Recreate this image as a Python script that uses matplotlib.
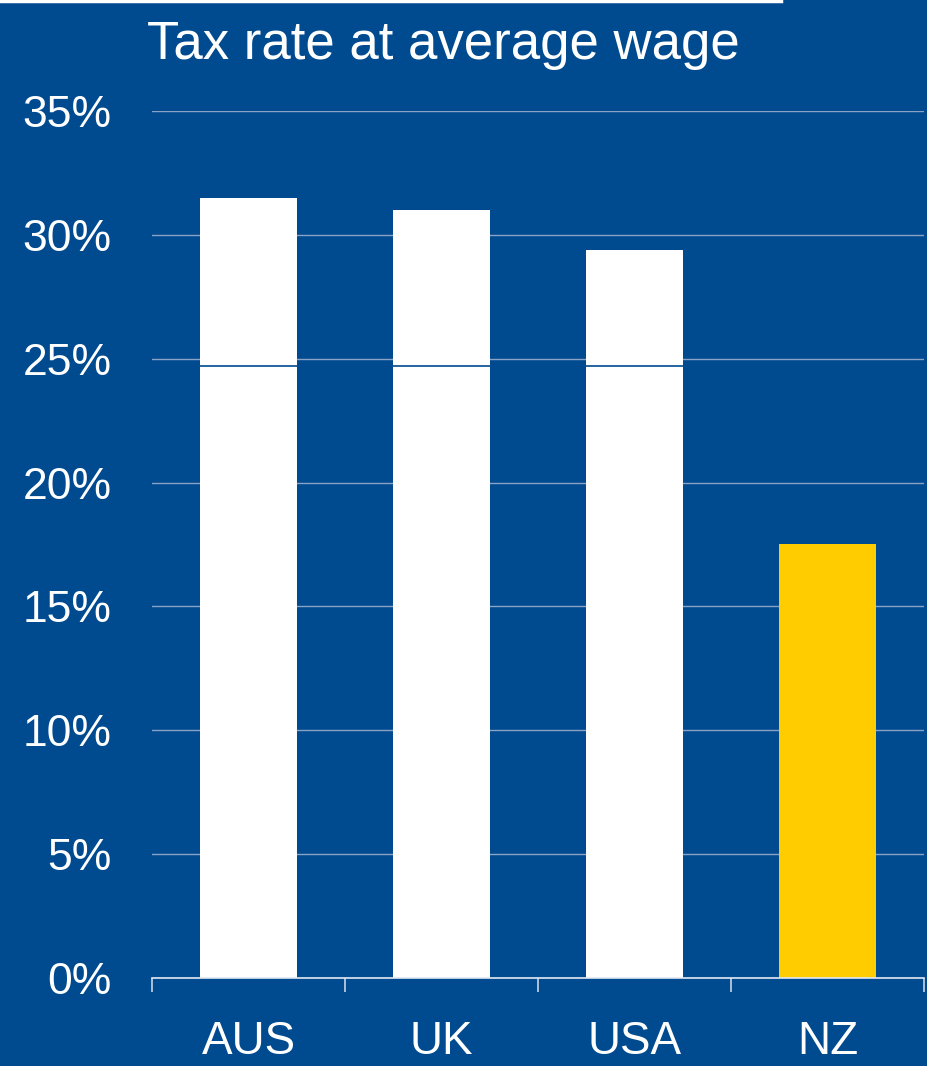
import matplotlib
matplotlib.use("Agg")
import matplotlib.pyplot as plt
from matplotlib.lines import Line2D
from matplotlib.ticker import FuncFormatter, FixedLocator

categories = ["AUS", "UK", "USA", "NZ"]
base_values = [24.7, 24.7, 24.7, 17.5]
extra_values = [6.8, 6.3, 4.7, 0.0]
bar_colors = ["#FFFFFF", "#FFFFFF", "#FFFFFF", "#FFCC00"]
y_ticks = [0, 5, 10, 15, 20, 25, 30, 35]
title = "Tax rate at average wage"

BG = "#004A8F"
plt.rcParams["font.family"] = ["Liberation Sans", "DejaVu Sans"]

fig = plt.figure(figsize=(9.27, 10.66), dpi=100, facecolor=BG)
ax = fig.add_axes([0.164, 0.0826, 0.8326, 0.8133])
ax.set_facecolor(BG)

x = list(range(len(categories)))
ax.bar(x, base_values, width=0.5, color=bar_colors, zorder=2)
ax.bar(x, extra_values, bottom=base_values, width=0.5, color=bar_colors, zorder=2)
# thin separator line between stacked segments
for xi, b, e in zip(x, base_values, extra_values):
    if e > 0:
        ax.hlines(b, xi - 0.25, xi + 0.25, colors=BG, linewidth=1.2, zorder=3)

ax.set_xlim(-0.5, 3.5)
ax.set_ylim(0, 35)
ax.yaxis.set_major_locator(FixedLocator(y_ticks))
ax.yaxis.set_major_formatter(FuncFormatter(lambda v, p: f"{v:.0f}%"))
ax.grid(axis="y", color="#8AA3C4", linewidth=1.0, zorder=1)
ax.set_axisbelow(True)
ax.tick_params(axis="y", length=0, pad=29, labelsize=32, labelcolor="white")

ax.set_xticks([-0.5, 0.5, 1.5, 2.5, 3.5])
ax.set_xticklabels([])
ax.set_xticks(x, minor=True)
ax.set_xticklabels(categories, minor=True)
ax.tick_params(axis="x", which="major", direction="out", length=10, width=1.2, color="#C8D4E6")
ax.tick_params(axis="x", which="minor", length=0, pad=30, labelsize=33, labelcolor="white")

for s in ["top", "right", "left"]:
    ax.spines[s].set_visible(False)
ax.spines["bottom"].set_color("#E0E8F2")
ax.spines["bottom"].set_linewidth(1.2)
ax.spines["bottom"].set_zorder(4)

fig.text(0.478, 0.958, title, ha="center", va="center", color="white", fontsize=38)

fig.add_artist(Line2D([0, 0.842], [0.999, 0.999], transform=fig.transFigure, color="white", linewidth=2.5))

fig.savefig("out.png", dpi=100, facecolor=BG)
